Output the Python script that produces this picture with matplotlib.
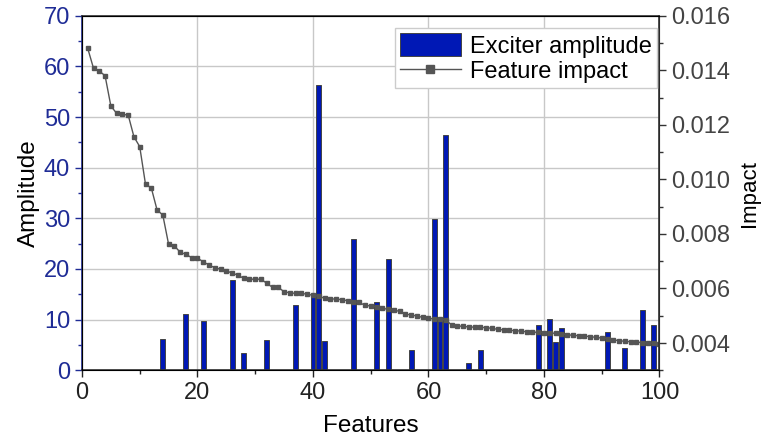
import matplotlib
matplotlib.use("Agg")
import matplotlib.pyplot as plt
from matplotlib.ticker import MultipleLocator, FormatStrFormatter

plt.rcParams["font.family"] = ["Liberation Sans", "DejaVu Sans"]

# exciter amplitude bars (feature index, amplitude)
bar_features = [14, 18, 21, 26, 28, 32, 37, 40, 41, 42, 47, 51, 53, 57, 61, 62, 63,
                67, 69, 79, 81, 82, 83, 91, 94, 97, 99]
bar_amplitude = [6.1, 11.1, 9.8, 17.8, 3.35, 6.0, 12.8, 14.9, 56.3, 5.85, 25.9, 13.5, 21.9,
                 4.1, 29.9, 10.1, 46.5, 1.5, 4.1, 8.9, 10.1, 5.5, 8.35, 7.6, 4.5, 11.9, 8.9]

# feature impact, features 1..100
impact_features = list(range(1, 101))
impact = [0.01480, 0.01407, 0.01397, 0.01380, 0.01269, 0.01242, 0.01238, 0.01236, 0.01156, 0.01120,
          0.00982, 0.00969, 0.00888, 0.00869, 0.00762, 0.00756, 0.00733, 0.00725, 0.00713, 0.00711,
          0.00698, 0.00686, 0.00676, 0.00671, 0.00665, 0.00656, 0.00649, 0.00637, 0.00634, 0.00634,
          0.00634, 0.00619, 0.00604, 0.00604, 0.00588, 0.00584, 0.00582, 0.00582, 0.00579, 0.00575,
          0.00572, 0.00564, 0.00562, 0.00561, 0.00559, 0.00555, 0.00551, 0.00549, 0.00538, 0.00536,
          0.00533, 0.00527, 0.00524, 0.00521, 0.00516, 0.00506, 0.00503, 0.00499, 0.00494, 0.00491,
          0.00488, 0.00488, 0.00485, 0.00466, 0.00463, 0.00461, 0.00459, 0.00458, 0.00458, 0.00456,
          0.00454, 0.00450, 0.00448, 0.00447, 0.00445, 0.00444, 0.00441, 0.00440, 0.00439, 0.00438,
          0.00436, 0.00436, 0.00433, 0.00431, 0.00428, 0.00427, 0.00426, 0.00423, 0.00421, 0.00418,
          0.00416, 0.00411, 0.00409, 0.00406, 0.00405, 0.00404, 0.00401, 0.00401, 0.00399, 0.00396]

blue = "#0018B5"
axis_blue = "#1F2C96"

fig = plt.figure(figsize=(7.64, 4.41), dpi=100)
ax = fig.add_axes([0.1073, 0.1603, 0.7559, 0.8041])

bars = ax.bar(bar_features, bar_amplitude, width=0.85, color=blue,
              edgecolor="#444444", linewidth=0.7, zorder=2, label="Exciter amplitude")

ax.set_xlim(0, 100)
ax.set_ylim(0, 70)
ax.xaxis.set_major_locator(MultipleLocator(20))
ax.xaxis.set_minor_locator(MultipleLocator(10))
ax.yaxis.set_major_locator(MultipleLocator(10))
ax.yaxis.set_minor_locator(MultipleLocator(5))
ax.grid(True, which="major", color="#c8c8c8", linewidth=1, zorder=0)
ax.set_axisbelow(True)

ax.tick_params(axis="x", which="both", direction="out", labelsize=17, colors="#222222")
ax.tick_params(axis="x", which="major", length=5, width=1)
ax.tick_params(axis="x", which="minor", length=3, width=1)
ax.tick_params(axis="y", which="both", direction="out", labelsize=17,
               colors=axis_blue, labelcolor=axis_blue)
ax.tick_params(axis="y", which="major", length=5, width=1)
ax.tick_params(axis="y", which="minor", length=3, width=1)
ax.spines["left"].set_color(axis_blue)
ax.spines["left"].set_linewidth(1.2)
for s in ["top", "bottom"]:
    ax.spines[s].set_color("#333333")
    ax.spines[s].set_linewidth(1.2)

ax.set_xlabel("Features", fontsize=17.5, labelpad=8)
ax.set_ylabel("Amplitude", fontsize=17.5, labelpad=3)

ax2 = ax.twinx()
line, = ax2.plot(impact_features, impact, color="#555555", linewidth=1,
                 marker="s", markersize=3.5, label="Feature impact")
ax2.set_ylim(0.003, 0.016)
ax2.yaxis.set_minor_locator(MultipleLocator(0.001))
ax2.yaxis.set_major_formatter(FormatStrFormatter("%.3f"))
ax2.set_yticks([0.004, 0.006, 0.008, 0.010, 0.012, 0.014, 0.016])
ax2.tick_params(axis="y", which="both", direction="out", labelsize=17,
                colors="#333333", labelcolor="#444444")
ax2.tick_params(axis="y", which="major", length=5, width=1)
ax2.tick_params(axis="y", which="minor", length=3, width=1)
ax2.spines["right"].set_color("#333333")
ax2.spines["right"].set_linewidth(1.2)
ax2.set_ylabel("Impact", fontsize=16, labelpad=6)

leg = ax2.legend([bars, line], ["Exciter amplitude", "Feature impact"],
                 loc="upper right", bbox_to_anchor=(0.9957, 0.965), borderaxespad=0,
                 fontsize=17, fancybox=False, edgecolor="#cccccc", framealpha=1,
                 handlelength=2.6, handleheight=1.15, handletextpad=0.4,
                 borderpad=0.2, labelspacing=0.05, markerscale=1.7)
leg.get_frame().set_linewidth(1)

fig.savefig("out.png", dpi=100)
